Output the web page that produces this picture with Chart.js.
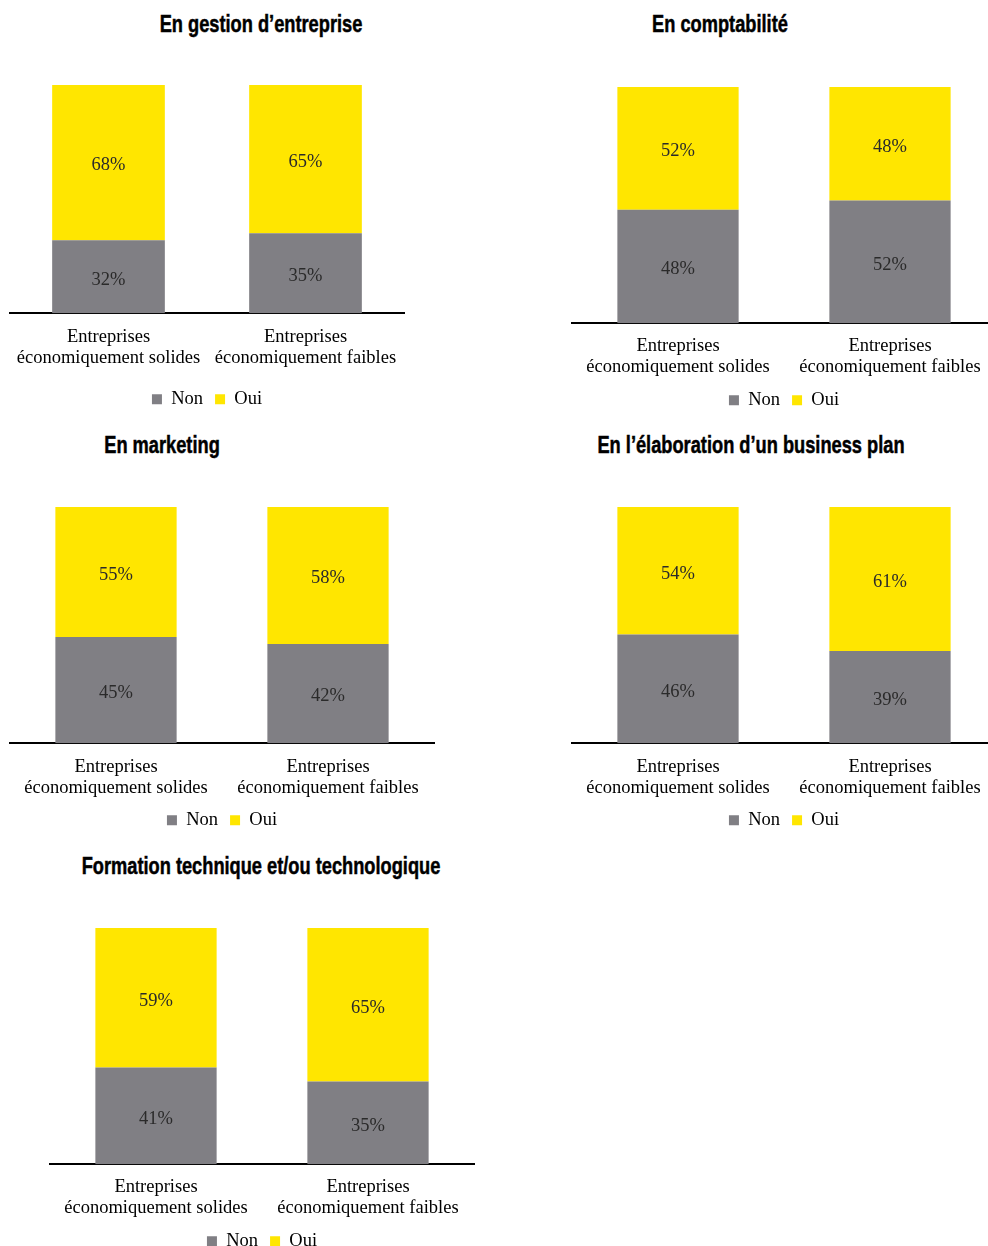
<!DOCTYPE html>
<html lang="fr">
<head>
  <meta charset="UTF-8">
  <title>Compétences des dirigeants</title>
  <script src="https://cdn.jsdelivr.net/npm/chart.js"></script>
  <style>
    html, body { margin: 0; padding: 0; background: #fff; overflow: hidden; }
    body { position: relative; width: 988px; height: 1246px; }
    .titre {
      position: absolute;
      transform: translate(-50%, -50%) scaleX(0.76);
      white-space: nowrap;
      font-family: "Liberation Sans", Arial, sans-serif;
      font-weight: bold;
      font-size: 24px;
      -webkit-text-stroke: 0.5px #000;
      color: #000;
    }
    canvas { position: absolute; }
  </style>
</head>
<body>
<script>
  const categories = [
    ['Entreprises', 'économiquement solides'],
    ['Entreprises', 'économiquement faibles']
  ];
  const seriesNames = ['Non', 'Oui'];

  const gestionNon = [32, 35];
  const gestionOui = [68, 65];
  const comptaNon = [48, 52];
  const comptaOui = [52, 48];
  const marketingNon = [45, 42];
  const marketingOui = [55, 58];
  const businessNon = [46, 39];
  const businessOui = [54, 61];
  const formationNon = [41, 35];
  const formationOui = [59, 65];

  const GRIS = '#807f84';
  const JAUNE = '#ffe600';
  const SERIF = '"Liberation Serif", "DejaVu Serif", serif';
  const FONT_SIZE = 18.5;
  const LEG_PAD = 12;
  const LEG_H = 40;

  // percentages written in the middle of every segment
  const valueLabels = {
    id: 'valueLabels',
    afterDatasetsDraw(chart) {
      const ctx = chart.ctx;
      ctx.save();
      ctx.font = '18.5px ' + SERIF;
      ctx.fillStyle = '#2a2a2a';
      ctx.textAlign = 'center';
      ctx.textBaseline = 'middle';
      chart.data.datasets.forEach((ds, i) => {
        chart.getDatasetMeta(i).data.forEach((bar, j) => {
          const p = bar.getProps(['x', 'y', 'base'], true);
          ctx.fillText(ds.data[j] + '%', p.x, (p.y + p.base) / 2 + 3);
        });
      });
      ctx.restore();
    }
  };

  // fixed legend height so the layout is predictable
  const legendHeight = {
    id: 'legendHeight',
    afterInit(chart) {
      const lg = chart.legend;
      if (!lg) return;
      const fit = lg.fit;
      lg.fit = function () {
        fit.call(this);
        this.height = LEG_H;
      };
    }
  };

  // one block = title + stacked bar chart
  // box: plot left/right, top of bars, axis line y, gap axis -> legend centre
  function makeChart(titre, tx, ty, non, oui, box) {
    const t = document.createElement('div');
    t.className = 'titre';
    t.textContent = titre;
    t.style.left = tx + 'px';
    t.style.top = ty + 'px';
    document.body.appendChild(t);

    const pad = 10;
    const axisH = box.legend - LEG_PAD - FONT_SIZE / 2;
    const w = box.right - box.left + 2 * pad;
    const h = pad + (box.axis - box.top) + axisH + LEG_H;

    const cv = document.createElement('canvas');
    cv.width = w;
    cv.height = Math.round(h);
    cv.style.left = (box.left - pad) + 'px';
    cv.style.top = (box.top - pad) + 'px';
    document.body.appendChild(cv);

    return new Chart(cv, {
      type: 'bar',
      data: {
        labels: categories,
        datasets: [
          { label: seriesNames[0], data: non, backgroundColor: GRIS },
          { label: seriesNames[1], data: oui, backgroundColor: JAUNE }
        ]
      },
      options: {
        responsive: false,
        animation: false,
        layout: { padding: { top: pad, left: pad, right: pad, bottom: 0 } },
        datasets: { bar: { categoryPercentage: 1, barPercentage: 0.572 } },
        scales: {
          x: {
            stacked: true,
            grid: { display: false, drawTicks: false },
            border: { display: true, color: '#000', width: 2 },
            afterFit(scale) { scale.height = axisH; },
            ticks: {
              padding: box.labelGap,
              color: '#000',
              maxRotation: 0,
              autoSkip: false,
              font: { family: SERIF, size: FONT_SIZE, lineHeight: 1.15 }
            }
          },
          y: { stacked: true, display: false, min: 0, max: 100 }
        },
        plugins: {
          legend: {
            position: 'bottom',
            labels: {
              boxWidth: 10,
              boxHeight: 10,
              padding: LEG_PAD,
              color: '#000',
              font: { family: SERIF, size: FONT_SIZE }
            }
          },
          tooltip: { enabled: false }
        }
      },
      plugins: [valueLabels, legendHeight]
    });
  }

  makeChart('En gestion d’entreprise', 261, 24, gestionNon, gestionOui,
    { left: 10, right: 404, top: 85, axis: 313, legend: 86, labelGap: 13 });
  makeChart('En comptabilité', 720, 24, comptaNon, comptaOui,
    { left: 572, right: 996, top: 87, axis: 323, legend: 77, labelGap: 12 });
  makeChart('En marketing', 162, 445, marketingNon, marketingOui,
    { left: 10, right: 434, top: 507, axis: 743, legend: 77, labelGap: 13 });
  makeChart('En l’élaboration d’un business plan', 751, 445, businessNon, businessOui,
    { left: 572, right: 996, top: 507, axis: 743, legend: 77, labelGap: 13 });
  makeChart('Formation technique et/ou technologique', 261, 866, formationNon, formationOui,
    { left: 50, right: 474, top: 928, axis: 1164, legend: 77, labelGap: 12 });
</script>
</body>
</html>
